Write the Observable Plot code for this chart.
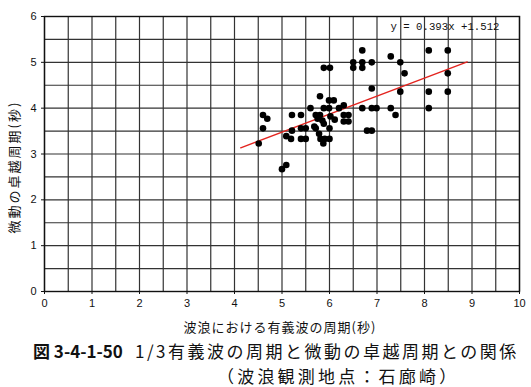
<!DOCTYPE html>
<html><head><meta charset="utf-8">
<script src="https://cdn.jsdelivr.net/npm/d3@7"></script>
<script src="https://cdn.jsdelivr.net/npm/@observablehq/plot@0.6"></script>
<style>
body{margin:0;background:#fff;width:531px;height:387px;position:relative;overflow:hidden;}
#chart{position:absolute;left:0;top:0;}
.cap{position:absolute;font-family:"Noto Sans CJK JP","Noto Sans",sans-serif;font-size:17px;line-height:20px;color:#111;white-space:nowrap;}
.xlab text{letter-spacing:1px;}
.ylab text{letter-spacing:2px;}
</style></head>
<body>
<div id="chart"></div>
<div class="cap" id="fig" style="left:33px;top:341px;font-weight:bold;"></div>
<div class="cap" id="t1" style="left:135px;top:341px;letter-spacing:2.5px;"></div>
<div class="cap" id="t2" style="left:217px;top:366px;letter-spacing:3.2px;"></div>
<script>
// data
const waveT = [4.51,4.60,4.69,4.60,5.00,5.09,5.09,5.19,5.21,5.21,5.40,5.40,5.50,5.40,5.50,5.60,5.71,5.80,5.71,5.75,5.85,5.88,5.80,5.88,5.99,5.99,6.09,5.78,5.81,5.90,6.00,5.87,6.00,6.11,6.02,6.20,6.30,6.30,6.40,6.30,6.40,5.88,6.01,6.50,6.50,6.69,6.69,6.69,6.89,7.29,7.49,7.58,8.09,8.49,8.49,6.89,7.49,8.09,8.49,6.69,6.89,6.99,7.29,7.39,8.09,6.79,6.89,5.68];
const microT = [3.23,3.85,3.77,3.56,2.67,2.76,3.39,3.33,3.51,3.85,3.85,3.56,3.56,3.33,3.33,4.00,3.85,3.85,3.56,3.77,3.73,3.66,4.26,4.00,4.00,4.17,4.17,3.44,3.33,3.33,3.33,3.23,3.56,3.75,3.82,4.00,4.06,3.85,3.85,3.71,3.71,4.88,4.88,5.00,4.88,5.00,4.88,5.26,5.00,5.13,5.00,4.76,5.26,5.26,4.76,4.43,4.36,4.36,4.36,4.00,4.00,4.00,4.00,3.85,4.00,3.51,3.51,3.60];
const slope = 0.393;
const intercept = 1.512;
const fitRange = [4.13, 8.9];
const xTicks = [0,1,2,3,4,5,6,7,8,9,10];
const yTicks = [0,1,2,3,4,5,6];
const xGrid = [0,0.5,1,1.5,2,2.5,3,3.5,4,4.5,5,5.5,6,6.5,7,7.5,8,8.5,9,9.5,10];
const yGrid = [0,0.5,1,1.5,2,2.5,3,3.5,4,4.5,5,5.5,6];
const xLabel = "波浪における有義波の周期(秒)";
const yLabel = "微動の卓越周期(秒)";
const eqText = "y = 0.393x +1.512";
const figNo = "図 3-4-1-50";
const title1 = "1/3有義波の周期と微動の卓越周期との関係";
const title2 = "（波浪観測地点：石廊崎）";

const pts = waveT.map((x, i) => ({x, y: microT[i]}));
const fit = fitRange.map(x => ({x, y: slope * x + intercept}));

const chart = Plot.plot({
  width: 531, height: 336,
  marginLeft: 44, marginRight: 12, marginTop: 16, marginBottom: 45,
  x: {domain: [0, 10]},
  y: {domain: [0, 6]},
  style: {fontFamily: "'Liberation Sans', Arial, sans-serif", fontSize: "11px", color: "#111", background: "#fff"},
  marks: [
    Plot.ruleX(xGrid, {stroke: "#333", strokeWidth: 1.2}),
    Plot.ruleY(yGrid, {stroke: "#333", strokeWidth: 1.2}),
    Plot.frame({stroke: "#111", strokeWidth: 1.4}),
    Plot.axisX(xTicks, {tickSize: 3, tickPadding: 5, label: null, fontSize: 11}),
    Plot.axisY(yTicks, {tickSize: 3, tickPadding: 5, label: null, fontSize: 11}),
    Plot.line(fit, {x: "x", y: "y", stroke: "#e3241f", strokeWidth: 1.4}),
    Plot.dot(pts, {x: "x", y: "y", r: 3.3, fill: "#000", stroke: "none"}),
    Plot.text([eqText], {frameAnchor: "top-right", dx: -20, dy: 10, textAnchor: "end", lineAnchor: "middle", fontFamily: "'Liberation Mono', 'DejaVu Sans Mono', monospace", fontSize: 10.7, fill: "#111"}),
    Plot.text([xLabel], {frameAnchor: "bottom", dx: -2, dy: 36, textAnchor: "middle", lineAnchor: "middle", fontFamily: "'Noto Sans CJK JP', sans-serif", fontSize: 13, fill: "#111", className: "xlab"}),
    Plot.text([yLabel], {frameAnchor: "left", dx: -30, dy: 13, rotate: -90, textAnchor: "middle", lineAnchor: "middle", fontFamily: "'Noto Sans CJK JP', sans-serif", fontSize: 13, fill: "#111", className: "ylab"})
  ]
});
document.getElementById("chart").append(chart);
document.getElementById("fig").textContent = figNo;
document.getElementById("t1").textContent = title1;
document.getElementById("t2").textContent = title2;
</script>
</body></html>
